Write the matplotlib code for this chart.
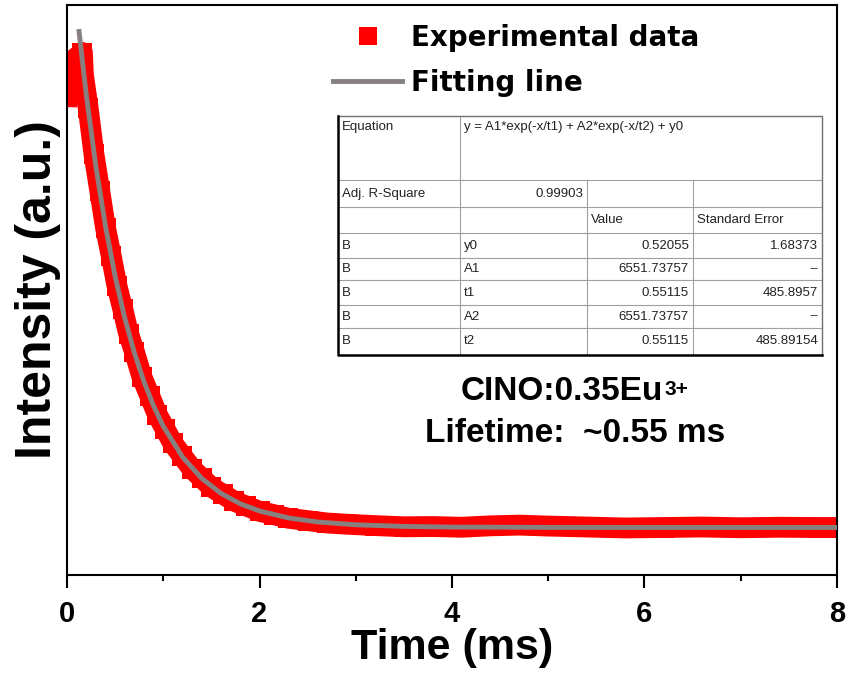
import matplotlib
matplotlib.use("Agg")
from matplotlib import pyplot as plt
import numpy as np

t_exp = [0.00, 0.01, 0.16, 0.17, 0.22, 0.28, 0.34, 0.40, 0.46, 0.52, 0.58, 0.64,
         0.70, 0.78, 0.86, 0.94, 1.02, 1.10, 1.20, 1.30, 1.40, 1.50, 1.62, 1.74,
         1.86, 2.00, 2.15, 2.30, 2.50, 2.70, 2.90, 3.20, 3.50, 3.80, 4.10, 4.40,
         4.70, 5.00, 5.40, 5.80, 6.20, 6.60, 7.00, 7.40, 7.80, 8.00]
i_exp = [9070, 9750, 10000, 9540, 8830, 7860, 7090, 6310, 5710, 5080, 4590, 4080,
         3700, 3160, 2770, 2370, 2070, 1770, 1500, 1230, 1040, 850, 700, 550,
         455, 340, 270, 195, 145, 95, 70, 40, 15, 20, 5, 35,
         50, 30, 10, -10, 0, 10, -5, 5, 0, 0]

# fitted curve
t_fit = [0.125, 0.2, 0.3, 0.4, 0.5, 0.6, 0.7, 0.8, 0.9, 1.0, 1.2, 1.4, 1.6,
         1.8, 2.0, 2.3, 2.6, 3.0, 3.5, 4.0, 5.0, 6.0, 7.0, 8.0]
i_fit = [10443, 9114, 7601, 6340, 5288, 4410, 3678, 3067, 2558, 2133, 1484,
         1033, 718, 499, 348, 202, 117, 57, 23, 9, 2, 1, 1, 1]

# fit report table
eq_text = "y = A1*exp(-x/t1) + A2*exp(-x/t2) + y0"
adj_r2 = "0.99903"
param_names = ["y0", "A1", "t1", "A2", "t2"]
param_values = ["0.52055", "6551.73757", "0.55115", "6551.73757", "0.55115"]
param_errors = ["1.68373", "--", "485.8957", "--", "485.89154"]

fig = plt.figure(figsize=(8.53, 6.82), dpi=100)
ax = fig.add_axes([67/853, 1-575/682, 770/853, 570/682])

red = "#ff0000"
grey = "#878080"
ax.plot(t_exp, i_exp, color=red, lw=15, solid_joinstyle="round", zorder=2)
ax.plot(t_exp, i_exp, ls="none", marker="s", ms=14.5, mew=0, color=red,
        label="Experimental data", zorder=2)
ax.plot(t_fit, i_fit, color=grey, lw=3.5, label="Fitting line", zorder=3)

ax.set_xlim(0, 8)
ax.set_ylim(-1000, 11000)
ax.set_yticks([])
ax.set_xticks([0, 2, 4, 6, 8])
ax.set_xticks([1, 3, 5, 7], minor=True)
ax.tick_params(axis="x", which="major", direction="out", length=9, width=1.5, pad=9)
ax.tick_params(axis="x", which="minor", direction="out", length=4, width=1.5)
for lab in ax.get_xticklabels():
    lab.set_family("Liberation Sans")
    lab.set_fontsize(21)
    lab.set_fontweight("bold")
for s in ax.spines.values():
    s.set_linewidth(1.5)

ax.set_xlabel("Time (ms)", family="Liberation Sans", fontsize=31,
              fontweight="bold", labelpad=0)
ax.set_ylabel("Intensity (a.u.)", family="Liberation Sans", fontsize=36,
              fontweight="bold")
ax.yaxis.set_label_coords(-0.008, 0.5)

leg = ax.legend(loc="upper left", bbox_to_anchor=(333/853, 1-24/682),
                bbox_transform=fig.transFigure, frameon=False, borderpad=0,
                borderaxespad=0, handlelength=2.5, handletextpad=0.3,
                labelspacing=0.62, markerscale=0.85,
                prop={"family": "DejaVu Sans", "weight": "bold", "size": 20})

t1 = ax.text(0.643, 0.307, "CINO:0.35Eu", transform=ax.transAxes,
             ha="center", va="baseline", fontsize=24, fontweight="bold",
             family="Liberation Sans")
ax.annotate("3+", xy=(1, 1), xycoords=t1, xytext=(1, -3),
            textcoords="offset points", ha="left", va="top",
            fontsize=15, fontweight="bold", family="Liberation Sans")
ax.text(0.66, 0.233, "Lifetime:  ~0.55 ms", transform=ax.transAxes,
        ha="center", va="baseline", fontsize=24, fontweight="bold",
        family="Liberation Sans")

# fit report table drawn as an inset
tab = fig.add_axes([338/853, 1-355/682, 484/853, 239/682])
tab.set_xlim(0, 1)
tab.set_ylim(1, 0)
tab.set_axis_off()
cx = [0, 0.252, 0.514, 0.733, 1]
ry = [0, 0.268, 0.381, 0.490, 0.594, 0.686, 0.791, 0.887, 1]
gc = "#a0a0a0"
for y in ry[1:-1]:
    tab.plot([0, 1], [y, y], color=gc, lw=0.8)
tab.plot([cx[1], cx[1]], [0, 1], color=gc, lw=0.8)
for x in cx[2:4]:
    tab.plot([x, x], [ry[1], 1], color=gc, lw=0.8)
tab.plot([0, 1, 1], [0, 0, 1], color="#707070", lw=1.0, clip_on=False)
tab.plot([0, 0, 1], [0, 1, 1], color="black", lw=1.8, clip_on=False)

tk = {"fontsize": 9.5, "family": "Liberation Sans", "color": "#222222"}
px = 0.008
tab.text(px, 0.02, "Equation", va="top", ha="left", **tk)
tab.text(cx[1] + px, 0.02, eq_text, va="top", ha="left", **tk)
ym = (ry[1] + ry[2]) / 2
tab.text(px, ym, "Adj. R-Square", va="center", ha="left", **tk)
tab.text(cx[2] - px, ym, adj_r2, va="center", ha="right", **tk)
ym = (ry[2] + ry[3]) / 2
tab.text(cx[2] + px, ym, "Value", va="center", ha="left", **tk)
tab.text(cx[3] + px, ym, "Standard Error", va="center", ha="left", **tk)
for k, (nm, v, e) in enumerate(zip(param_names, param_values, param_errors)):
    ym = (ry[3 + k] + ry[4 + k]) / 2
    tab.text(px, ym, "B", va="center", ha="left", **tk)
    tab.text(cx[1] + px, ym, nm, va="center", ha="left", **tk)
    tab.text(cx[3] - px, ym, v, va="center", ha="right", **tk)
    tab.text(1 - px, ym, e, va="center", ha="right", **tk)

fig.savefig("out.png", dpi=100)
